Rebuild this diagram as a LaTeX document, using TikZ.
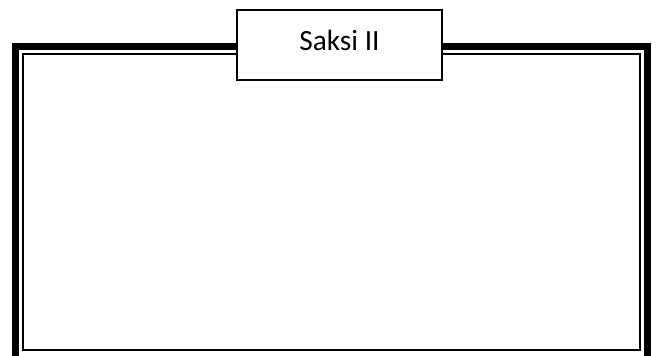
\documentclass[tikz,border=0pt]{standalone}
\usepackage{fontspec}
\setmainfont{Carlito}
\usetikzlibrary{positioning}
\tikzset{>=latex}
\tikzset{
	outerframe/.style={draw=black, line width=5.25pt},
	innerframe/.style={draw=black, line width=1.1pt},
	titlebox/.style={draw=black, fill=white, line width=0.8pt, minimum width=153.75pt, minimum height=52.5pt, text depth=7.5pt}
}
\begin{document}
\begin{tikzpicture}[x=0.75pt, y=-0.75pt, font=\fontsize{22}{26}\selectfont]
		\useasboundingbox (0,0) rectangle (658,356);
		
		\coordinate (outernw) at (15.5,46.5);
		\coordinate (outerse) at (647,359.5);
		\coordinate (innernw) at (23,54);
		\coordinate (innerse) at (640,350);
		
		\draw[outerframe] (outernw) rectangle (outerse);
		\draw[innerframe] (innernw) rectangle (innerse);
		
		\node[titlebox] (title) at (339.5,45) {Saksi II};
	\end{tikzpicture}
\end{document}
